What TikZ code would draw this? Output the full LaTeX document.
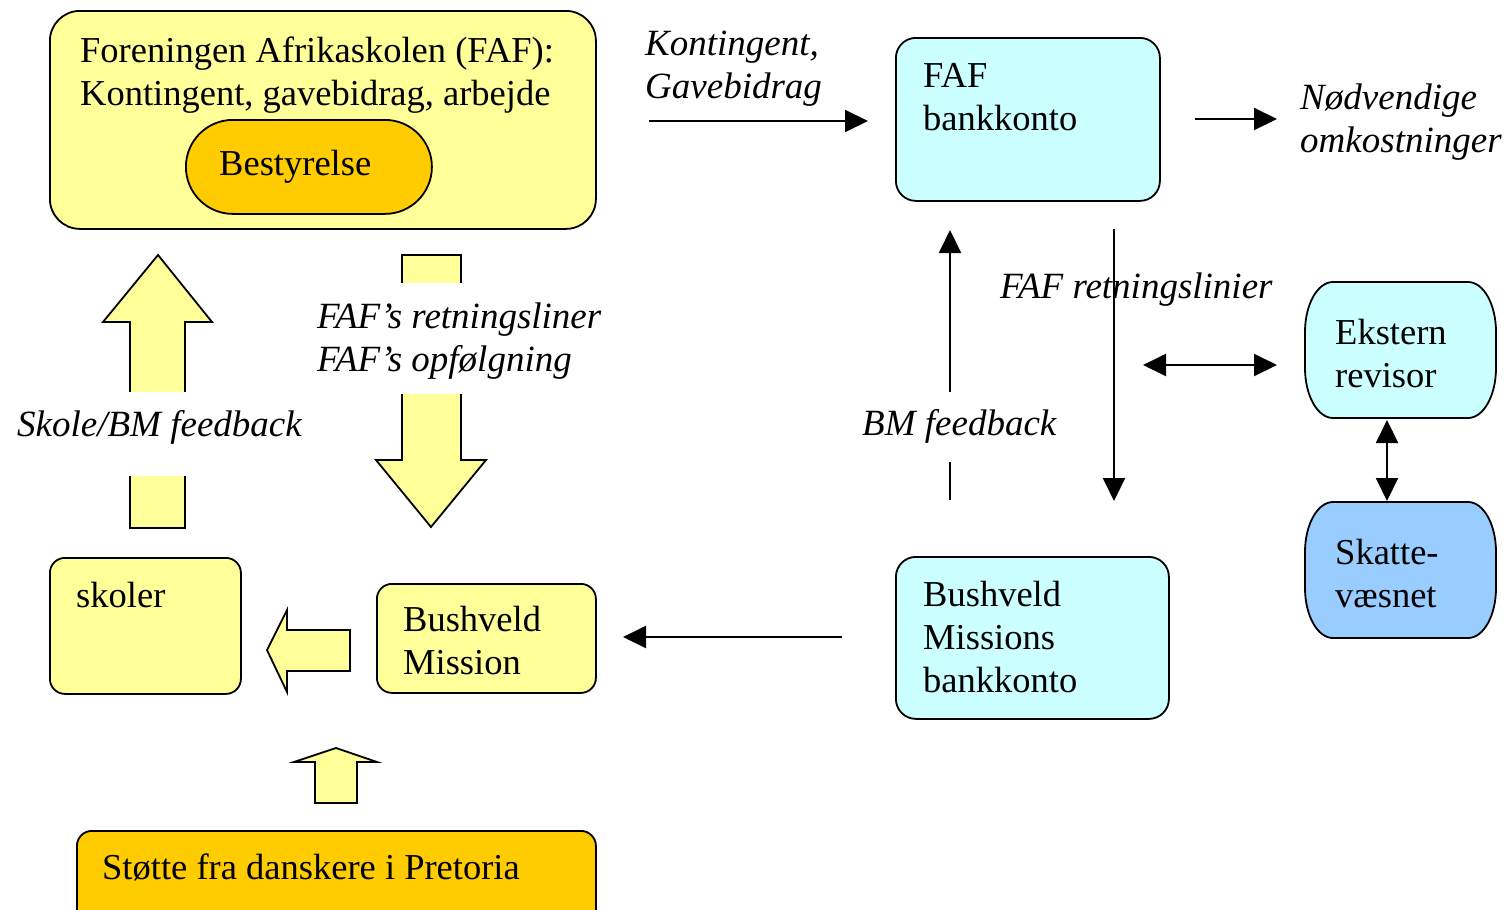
\documentclass[tikz,border=0pt]{standalone}
\usepackage{fontspec}
\setmainfont{Liberation Serif}
\usetikzlibrary{arrows.meta,calc}
\definecolor{ylw}{HTML}{FFFF99}
\definecolor{org}{HTML}{FFCC00}
\definecolor{cyn}{HTML}{CCFFFF}
\definecolor{blu}{HTML}{99CCFF}
\begin{document}
\begin{tikzpicture}[x=1pt,y=-1pt,
  box/.style={draw=black, line width=1.8pt, anchor=north west, inner sep=0pt},
  txt/.style={font=\fontsize{36.5}{43}\selectfont, anchor=base west, align=left, inner sep=0pt},
  itxt/.style={font=\fontsize{37}{43}\selectfont\itshape, anchor=base west, align=left, inner sep=0pt},
  blockarrow/.style={draw=black, line width=1.8pt, fill=ylw, line join=miter},
  conn/.style={line width=2pt, -{Triangle[length=23pt,width=22pt]}},
  dconn/.style={line width=2pt, {Triangle[length=23pt,width=22pt]}-{Triangle[length=23pt,width=22pt]}},
]
\useasboundingbox (0,0) rectangle (1507,910);
\fill[white] (0,0) rectangle (1507,910);

% --- FAF top-left box (text anchors: baseline of last line)
\node[box, fill=ylw, rounded corners=30pt, minimum width=546pt, minimum height=218pt] (faf) at (49,10) {};
\node[txt] (fafT) at (80,105) {Foreningen Afrikaskolen (FAF):\\Kontingent, gavebidrag, arbejde};
\node[box, fill=org, rounded corners=47pt, minimum width=246pt, minimum height=94pt] (best) at (185,119) {};
\node[txt] (bestT) at (219,175) {Bestyrelse};

% --- block arrows left
\draw[blockarrow] (130,528) -- (130,322) -- (103,322) -- (158,255) -- (212,322) -- (185,322) -- (185,528) -- cycle;
\fill[white] (120,392) rectangle (195,476);
\node[itxt] (skfb) at (17,436) {Skole/BM feedback};

\draw[blockarrow] (402,255) -- (461,255) -- (461,460) -- (486,460) -- (431,527) -- (376,460) -- (402,460) -- cycle;
\fill[white] (392,283) rectangle (471,394);
\node[itxt] (retn) at (317,371) {FAF’s retningsliner\\FAF’s opfølgning};

% --- lower left
\node[box, fill=ylw, rounded corners=15pt, minimum width=191pt, minimum height=136pt] (skoler) at (49,557) {};
\node[txt] (skolerT) at (76,607) {skoler};
\draw[blockarrow] (350,630) -- (287,630) -- (287,610) -- (267,650) -- (287,692) -- (287,671) -- (350,671) -- cycle;
\node[box, fill=ylw, rounded corners=15pt, minimum width=219pt, minimum height=109pt] (bm) at (376,583) {};
\node[txt] (bmT) at (403,674) {Bushveld\\Mission};
\draw[blockarrow] (315,803) -- (315,762) -- (294,762) -- (336,748) -- (377,762) -- (357,762) -- (357,803) -- cycle;
\node[box, fill=org, rounded corners=15pt, minimum width=519pt, minimum height=110pt] (stotte) at (76,830) {};
\node[txt] (stotteT) at (102,879) {Støtte fra danskere i Pretoria};

% --- top right
\node[itxt] (kont) at (645,98) {Kontingent,\\Gavebidrag};
\coordinate (k1) at (649,121);
\coordinate (k2) at (868,121);
\draw[conn] (k1) -- (k2);
\node[box, fill=cyn, rounded corners=20pt, minimum width=264pt, minimum height=163pt] (fafbank) at (895,37) {};
\node[txt] (fafbankT) at (923,130) {FAF\\bankkonto};
\coordinate (n1) at (1195,119);
\coordinate (n2) at (1277,119);
\draw[conn] (n1) -- (n2);
\node[itxt] (nodv) at (1300,152) {Nødvendige\\omkostninger};

% --- middle right arrows
\coordinate (u0) at (950,500);
\coordinate (u1) at (950,462);
\coordinate (u2) at (950,392);
\coordinate (u3) at (950,230);
\draw[line width=2pt] (u0) -- (u1);
\draw[conn] (u2) -- (u3);
\node[itxt] (bmfb) at (862,435) {BM feedback};
\coordinate (d1) at (1114,229);
\coordinate (d2) at (1114,501);
\draw[conn] (d1) -- (d2);
\node[itxt] (fafret) at (1000,298) {FAF retningslinier};
\coordinate (h1) at (1143,365);
\coordinate (h2) at (1277,365);
\draw[dconn] (h1) -- (h2);

% --- Ekstern revisor / Skattevaesnet
\draw[line width=1.8pt, fill=cyn] (1333,282) -- (1468,282) .. controls (1483.5,282) and (1496,304.4) .. (1496,332) -- (1496,368) .. controls (1496,395.6) and (1483.5,418) .. (1468,418) -- (1333,418) .. controls (1317.5,418) and (1305,395.6) .. (1305,368) -- (1305,332) .. controls (1305,304.4) and (1317.5,282) .. (1333,282) -- cycle;
\coordinate (ekB) at (1387,420);
\node[txt] (ekT) at (1335,387) {Ekstern\\revisor};
\draw[line width=1.8pt, fill=blu] (1333,502) -- (1468,502) .. controls (1483.5,502) and (1496,524.4) .. (1496,552) -- (1496,588) .. controls (1496,615.6) and (1483.5,638) .. (1468,638) -- (1333,638) .. controls (1317.5,638) and (1305,615.6) .. (1305,588) -- (1305,552) .. controls (1305,524.4) and (1317.5,502) .. (1333,502) -- cycle;
\coordinate (skN) at (1387,501);
\node[txt] (skT) at (1335,607) {Skatte-\\væsnet};
\draw[dconn] (ekB) -- (skN);

% --- BM bankkonto
\node[box, fill=cyn, rounded corners=20pt, minimum width=273pt, minimum height=162pt] (bmbank) at (895,556) {};
\node[txt] (bmbankT) at (923,692) {Bushveld\\Missions\\bankkonto};
\coordinate (b1) at (842,637);
\coordinate (b2) at (623,637);
\draw[conn] (b1) -- (b2);
\end{tikzpicture}
\end{document}
